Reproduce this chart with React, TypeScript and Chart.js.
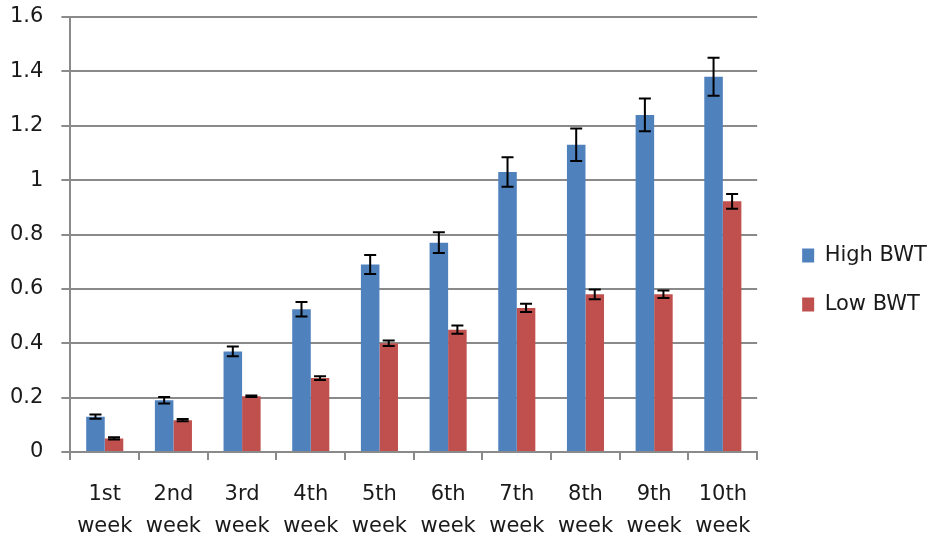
import { useEffect, useRef } from "react";
import { Chart, registerables, Plugin } from "chart.js";

Chart.register(...registerables);

// Weeks on the x axis (two-line labels)
const weeks = [
  ["1st", "week"],
  ["2nd", "week"],
  ["3rd", "week"],
  ["4th", "week"],
  ["5th", "week"],
  ["6th", "week"],
  ["7th", "week"],
  ["8th", "week"],
  ["9th", "week"],
  ["10th", "week"],
];

const highBwt = [0.13, 0.19, 0.37, 0.525, 0.69, 0.77, 1.03, 1.13, 1.24, 1.38];
const highErr = [0.008, 0.012, 0.018, 0.027, 0.035, 0.038, 0.054, 0.06, 0.06, 0.07];

const lowBwt = [0.05, 0.117, 0.205, 0.272, 0.4, 0.45, 0.53, 0.58, 0.58, 0.922];
const lowErr = [0.004, 0.004, 0.003, 0.007, 0.01, 0.015, 0.015, 0.018, 0.014, 0.027];

const yTickLabels = ["0", "0.2", "0.4", "0.6", "0.8", "1", "1.2", "1.4", "1.6"];

const errors = [highErr, lowErr];

// Draws the error whiskers on top of each bar
const errorBars: Plugin<"bar"> = {
  id: "errorBars",
  afterDatasetsDraw(chart) {
    const { ctx } = chart;
    const yScale = chart.scales.y;
    ctx.save();
    ctx.strokeStyle = "#000";
    ctx.lineWidth = 2;
    chart.data.datasets.forEach((ds, di) => {
      const meta = chart.getDatasetMeta(di);
      meta.data.forEach((bar, i) => {
        const v = ds.data[i] as number;
        const e = errors[di][i];
        const x = bar.x;
        const yTop = yScale.getPixelForValue(v + e);
        const yBot = yScale.getPixelForValue(v - e);
        const cap = 6;
        ctx.beginPath();
        ctx.moveTo(x, yTop);
        ctx.lineTo(x, yBot);
        ctx.moveTo(x - cap, yTop);
        ctx.lineTo(x + cap, yTop);
        ctx.moveTo(x - cap, yBot);
        ctx.lineTo(x + cap, yBot);
        ctx.stroke();
      });
    });
    ctx.restore();
  },
};

// keep tick padding from pushing the plot area around
// (chart.js reserves the padding twice, the labels only use it once)
const tightScale = (s: any) => {
  s.paddingTop = 0;
  s.paddingBottom = 0;
  s.paddingLeft = 0;
  s.paddingRight = 0;
  if (s.options.display && s.options.ticks.display) {
    if (s.isHorizontal()) s.height -= s.options.ticks.padding;
    else s.width -= s.options.ticks.padding;
  }
};

export default function App() {
  const chartRef = useRef<HTMLCanvasElement>(null);
  const chartInstance = useRef<Chart | null>(null);

  useEffect(() => {
    document.body.style.margin = "0";
    if (!chartRef.current) return;
    if (chartInstance.current) chartInstance.current.destroy();
    const ctx = chartRef.current.getContext("2d");
    if (!ctx) return;

    const font = { family: "'DejaVu Sans', sans-serif", size: 21 };
    const grey = "#8a8a8a";

    chartInstance.current = new Chart(ctx, {
      type: "bar",
      data: {
        labels: weeks,
        datasets: [
          {
            label: "High BWT",
            data: highBwt,
            backgroundColor: "#4F81BD",
            categoryPercentage: 0.54,
            barPercentage: 1,
          },
          {
            label: "Low BWT",
            data: lowBwt,
            backgroundColor: "#C0504D",
            categoryPercentage: 0.54,
            barPercentage: 1,
          },
        ],
      },
      options: {
        animation: false,
        responsive: true,
        maintainAspectRatio: false,
        layout: { padding: { top: 17, left: 10, right: 8, bottom: 0 } },
        scales: {
          x: {
            grid: {
              drawOnChartArea: false,
              color: grey,
              lineWidth: 2,
              tickLength: 8,
            },
            border: { color: grey, width: 2 },
            ticks: {
              color: "#1a1a1a",
              font: { ...font, lineHeight: 32 / 21 },
              padding: 19,
              maxRotation: 0,
            },
            afterFit: tightScale,
          },
          y: {
            min: 0,
            max: 1.6,
            grid: { color: grey, lineWidth: 2, tickLength: 9 },
            border: { color: grey, width: 2 },
            ticks: {
              stepSize: 0.2,
              color: "#1a1a1a",
              font,
              padding: 18,
              callback: (_v, i) => yTickLabels[i],
            },
            afterFit: tightScale,
          },
          // spacer between plot and legend
          gap: {
            position: "right",
            display: true,
            grid: { display: false },
            border: { display: false },
            ticks: { display: false },
            afterFit: (s) => {
              tightScale(s);
              s.width = 17;
            },
          },
        },
        plugins: {
          legend: {
            position: "right",
            labels: {
              boxWidth: 12,
              boxHeight: 14,
              padding: 28,
              color: "#1a1a1a",
              font,
            },
          },
          tooltip: { enabled: false },
        },
      },
      plugins: [errorBars],
    });

    return () => {
      if (chartInstance.current) {
        chartInstance.current.destroy();
        chartInstance.current = null;
      }
    };
  }, []);

  return (
    <div style={{ width: 935, height: 543, position: "relative" }}>
      <canvas ref={chartRef} />
    </div>
  );
}
